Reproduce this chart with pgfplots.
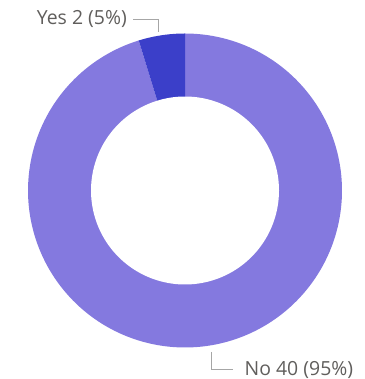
\documentclass[border=0pt]{standalone}
\usepackage{pgfplots}
\pgfplotsset{compat=1.18}
\usepackage{pgfplotstable}
\usepackage{fontspec}
\setmainfont{Open Sans}
\definecolor{noCol}{HTML}{8479DF}
\definecolor{yesCol}{HTML}{3B3FC9}
\definecolor{txt}{HTML}{605E5C}
\definecolor{lead}{HTML}{A6A6A6}
\pgfplotstableread{
label value
Yes 2
No 40
}\votes
\pgfplotstablegetelem{0}{value}\of\votes \let\yesv\pgfplotsretval
\pgfplotstablegetelem{1}{value}\of\votes \let\nov\pgfplotsretval
\pgfmathsetmacro{\total}{\yesv+\nov}
\pgfmathsetmacro{\aA}{90}
\pgfmathsetmacro{\aB}{90+360*\yesv/\total}
\pgfmathsetmacro{\aC}{\aB+360*\nov/\total}
\def\cx{185}
\def\cy{188.5}
\def\ro{157}
\def\ri{94}
\begin{document}
\begin{tikzpicture}
\begin{axis}[scale only axis, width=365bp, height=379bp,
  xmin=0, xmax=365, ymin=0, ymax=379, hide axis, clip=false]
\path (axis cs:0,0) (axis cs:365,379);
\addplot[draw=none, fill=noCol, domain=\aB:\aC, samples=200, variable=\t]
  ({\cx+\ro*cos(\t)},{\cy+\ro*sin(\t)}) -- (axis cs:\cx,\cy) -- cycle;
\addplot[draw=none, fill=yesCol, domain=\aA:\aB, samples=30, variable=\t]
  ({\cx+\ro*cos(\t)},{\cy+\ro*sin(\t)}) -- (axis cs:\cx,\cy) -- cycle;
\addplot[draw=none, fill=white, domain=0:360, samples=200, variable=\t]
  ({\cx+\ri*cos(\t)},{\cy+\ri*sin(\t)}) -- cycle;
% leader lines
\draw[lead, line width=0.9bp] (axis cs:133,360) -- (axis cs:158.5,360) -- (axis cs:158.5,347);
\draw[lead, line width=0.9bp] (axis cs:211,27) -- (axis cs:211,10) -- (axis cs:233,10);
\node[anchor=base east, text=txt, inner sep=0pt, font=\fontsize{19.5}{21}\selectfont] at (axis cs:127,354) {Yes 2 (5\%)};
\node[anchor=base west, text=txt, inner sep=0pt, font=\fontsize{19.5}{21}\selectfont] at (axis cs:244.5,3.5) {No 40 (95\%)};
\end{axis}
\end{tikzpicture}
\end{document}
